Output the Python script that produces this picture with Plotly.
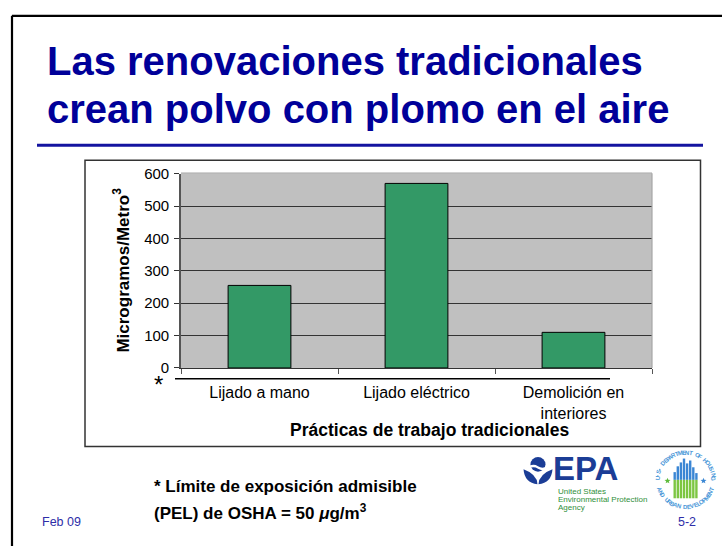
import math
import plotly.graph_objects as go

# ---- data ----
practicas = ["Lijado a mano", "Lijado eléctrico", "Demolición en<br>interiores"]
microgramos_m3 = [255, 570, 110]
y_ticks = [0, 100, 200, 300, 400, 500, 600]

titulo_l1 = "Las renovaciones tradicionales"
titulo_l2 = "crean polvo con plomo en el aire"
eje_y = "Microgramos/Metro<sup>3</sup>"
eje_x = "Prácticas de trabajo tradicionales"
nota_l1 = "* Límite de exposición admisible"
nota_l2 = "(PEL) de OSHA = 50 <i>μ</i>g/m<sup>3</sup>"
fecha = "Feb 09"
pagina = "5-2"
epa_lineas = ["United States", "Environmental Protection", "Agency"]
hud_arriba = "U.S. DEPARTMENT OF HOUSING"
hud_abajo = "AND URBAN DEVELOPMENT"

W, H = 722, 546
FONT = "Liberation Sans"


def fx(x):
    return x / W


def fy(y):
    return 1 - y / H


fig = go.Figure()

fig.add_trace(go.Bar(
    x=practicas, y=microgramos_m3,
    marker=dict(color="#339966", line=dict(color="#000000", width=1)),
    width=0.4, hoverinfo="skip",
))

shapes = []
annotations = []


def line(x0, y0, x1, y1, color, width, layer="above"):
    shapes.append(dict(type="line", xref="paper", yref="paper",
                       x0=fx(x0), y0=fy(y0), x1=fx(x1), y1=fy(y1),
                       line=dict(color=color, width=width), layer=layer))


def dot(x, y, r, color):
    shapes.append(dict(type="circle", xref="paper", yref="paper",
                       x0=fx(x - r), x1=fx(x + r), y0=fy(y + r), y1=fy(y - r),
                       fillcolor=color, line=dict(width=0)))


def text(x, y, s, size, color="#000000", bold=False, xanchor="center",
         yanchor="middle", angle=0, family=FONT):
    if bold:
        s = "<b>" + s + "</b>"
    annotations.append(dict(x=fx(x), y=fy(y), xref="paper", yref="paper",
                            text=s, showarrow=False, xanchor=xanchor,
                            yanchor=yanchor, textangle=angle,
                            font=dict(family=family, size=size, color=color)))


def path(points_cmds):
    out = []
    for cmd in points_cmds:
        if isinstance(cmd, str):
            out.append(cmd)
        else:
            out.append(f"{fx(cmd[0]):.5f},{fy(cmd[1]):.5f}")
    return " ".join(out)


def star(x, y, r, color):
    pts = []
    for k in range(10):
        rr = r if k % 2 == 0 else r * 0.42
        a = math.radians(k * 36)
        pts.append((x + rr * math.sin(a), y - rr * math.cos(a)))
    cmds = ["M", pts[0]]
    for p in pts[1:]:
        cmds += ["L", p]
    cmds.append("Z")
    shapes.append(dict(type="path", xref="paper", yref="paper",
                       path=path(cmds), fillcolor=color, line=dict(width=0)))


# slide frame
line(12, 7, 12, 560, "#000000", 2.2)
line(12, 7, 730, 7, "#000000", 2.2)

# title and rule
text(45, 54, titulo_l1, 40, "#000099", bold=True, xanchor="left")
text(45, 103, titulo_l2, 40, "#000099", bold=True, xanchor="left")
line(37, 140.5, 703, 140.5, "#1414A0", 3)

# chart box
shapes.append(dict(type="rect", xref="paper", yref="paper",
                   x0=fx(85), y0=fy(451.5), x1=fx(700.5), y1=fy(156),
                   line=dict(color="#333333", width=1.5),
                   fillcolor="rgba(0,0,0,0)", layer="below"))

# light border on top / right of plot area
line(181, 169.5, 652, 169.5, "#A6A6A6", 1.2)
line(652, 169.5, 652, 370.5, "#A6A6A6", 1.2)

# asterisk and underline below the plot
line(175, 381.7, 610, 381.7, "#000000", 1.5)
text(158, 388, "*", 24)

# axis titles
text(121, 270, eje_y, 17, bold=True, angle=-90)
text(429, 435, eje_x, 17.5, bold=True)

# footnote
text(152, 492.5, nota_l1, 17, bold=True, xanchor="left")
text(152, 519, nota_l2, 17, bold=True, xanchor="left")

# footer
text(40, 529, fecha, 12.5, "#2E2EA8", xanchor="left")
text(687, 529, pagina, 12.5, "#2E2EA8")

# ---- EPA mark ----
EPA_BLUE = "#1B3D96"

dot(538, 470, 7.5, EPA_BLUE)
# white wave across the disc
shapes.append(dict(type="path", xref="paper", yref="paper",
                   path=path(["M", (529, 472), "Q", (533.5, 469), (538, 472),
                              "Q", (542.5, 475), (547, 472), "L", (547, 474.5),
                              "Q", (542.5, 477.5), (538, 474.5),
                              "Q", (533.5, 471.5), (529, 474.5), "Z"]),
                   fillcolor="#FFFFFF", line=dict(width=0)))
# leaves
shapes.append(dict(type="path", xref="paper", yref="paper",
                   path=path(["M", (523.5, 475), "Q", (524.5, 489), (537.5, 490.5),
                              "Q", (537, 480), (523.5, 475), "Z"]),
                   fillcolor=EPA_BLUE, line=dict(width=0)))
shapes.append(dict(type="path", xref="paper", yref="paper",
                   path=path(["M", (552.5, 475), "Q", (551.5, 489), (538.5, 490.5),
                              "Q", (539, 480), (552.5, 475), "Z"]),
                   fillcolor=EPA_BLUE, line=dict(width=0)))
text(551, 474.5, "EPA", 33, EPA_BLUE, bold=True, xanchor="left")
for i, s in enumerate(epa_lineas):
    text(555.5, 498.5 + 8 * i, s, 8, "#2F8F3A", xanchor="left")

# ---- HUD seal ----
cx, cy = 685.5, 486
bar_tops = [478, 472, 468, 464, 469, 466, 473, 479]
bx = 673.5
for t in bar_tops:
    shapes.append(dict(type="rect", xref="paper", yref="paper",
                       x0=fx(bx), x1=fx(bx + 2.4), y0=fy(486), y1=fy(t),
                       fillcolor="#3A86D4", line=dict(width=0)))
    shapes.append(dict(type="rect", xref="paper", yref="paper",
                       x0=fx(bx), x1=fx(bx + 2.4), y0=fy(505), y1=fy(486),
                       fillcolor="#7DC642", line=dict(width=0)))
    bx += 3.1
star(667.5, 487, 3.2, "#5DBB3A")
star(703.5, 487, 3.2, "#3A86D4")

RING = "#4A97D8"
R = 28
step = 7.0
n = len(hud_arriba)
start = -step * (n - 1) / 2
for i, ch in enumerate(hud_arriba):
    th = start + i * step
    a = math.radians(th)
    px, py = cx + R * math.sin(a), cy - R * math.cos(a)
    if ch == " ":
        continue
    if ch == ".":
        dot(px, py + 0.5, 0.7, RING)
        continue
    text(px, py, ch, 6, RING, bold=True, angle=th)
n = len(hud_abajo)
start = 180 + step * (n - 1) / 2
for i, ch in enumerate(hud_abajo):
    if ch == " ":
        continue
    th = start - i * step
    a = math.radians(th)
    text(cx + R * math.sin(a), cy - R * math.cos(a), ch, 6, RING,
         bold=True, angle=th - 180)

fig.update_layout(
    width=W, height=H, autosize=False,
    margin=dict(l=0, r=0, t=0, b=0),
    paper_bgcolor="#FFFFFF", plot_bgcolor="#C0C0C0",
    showlegend=False,
    shapes=shapes, annotations=annotations,
    xaxis=dict(
        domain=[fx(181), fx(652)], type="category",
        showline=True, linecolor="#333333", linewidth=1.2,
        ticks="outside", tickson="boundaries", ticklen=5,
        tickcolor="#555555", tickwidth=1.2,
        showgrid=False, ticklabelstandoff=10,
        tickfont=dict(family=FONT, size=16, color="#000000"),
        fixedrange=True,
    ),
    yaxis=dict(
        domain=[fy(370.5), fy(170)], range=[0, 600],
        tickvals=y_ticks, ticktext=[str(v) for v in y_ticks],
        showgrid=True, gridcolor="#333333", gridwidth=1,
        showline=True, linecolor="#555555", linewidth=1.6,
        ticks="outside", ticklen=5, tickcolor="#333333", tickwidth=1,
        zeroline=False, ticklabelstandoff=2,
        tickfont=dict(family=FONT, size=15, color="#000000"),
        fixedrange=True,
    ),
)

fig.write_html("out.html")
